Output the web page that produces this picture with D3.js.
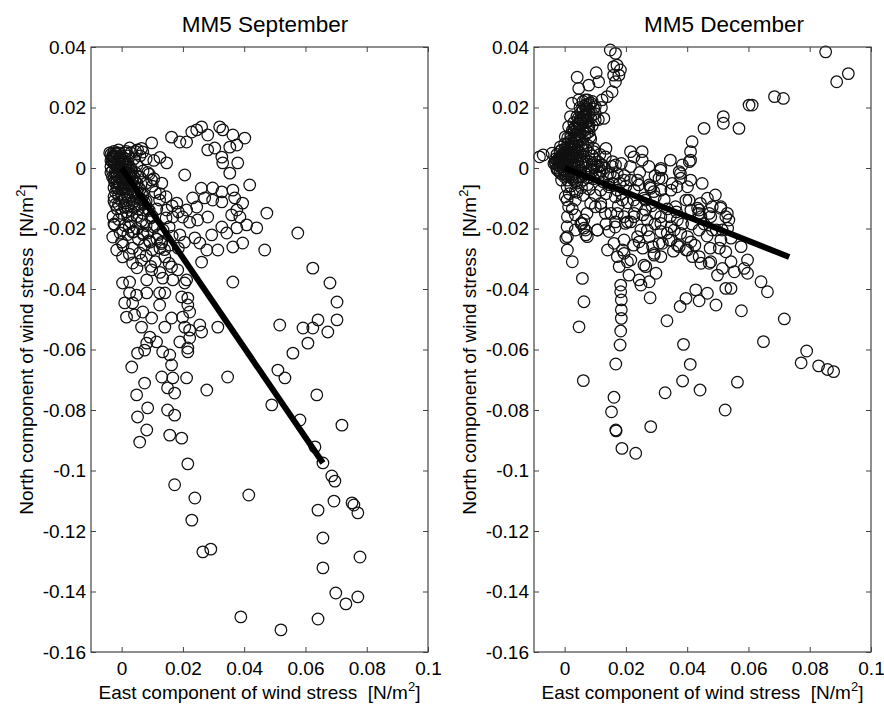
<!DOCTYPE html>
<html>
<head>
<meta charset="utf-8">
<script src="https://cdn.jsdelivr.net/npm/d3@7"></script>
<style>
  body { margin: 0; background: #fff; }
  text { font-family: "Liberation Sans", Arial, sans-serif; fill: #000; }
</style>
</head>
<body>
<svg id="chart"></svg>
<script>
// values, N/m^2
const xTicks = [0, 0.02, 0.04, 0.06, 0.08, 0.1];
const yTicks = [0.04, 0.02, 0, -0.02, -0.04, -0.06, -0.08, -0.1, -0.12, -0.14, -0.16];
const titles = ["MM5 September", "MM5 December"];
const xLabel = "East component of wind stress  [N/m";
const yLabel = "North component of wind stress  [N/m";

const sepPoints = [
  [0.0163,0.0102],[0.0190,0.0086],[0.0212,0.0086],[0.0229,0.0119],[0.0245,0.0126],[0.0261,0.0136],[0.0281,0.0109],[0.0320,0.0136],[0.0330,0.0126],[0.0363,0.0109],[0.0402,0.0099],[0.0304,0.0066],[0.0281,0.0060],[0.0327,0.0036],[0.0353,0.0069],[0.0376,0.0076],[0.0330,0.0017],[0.0353,-0.0017],[0.0379,0.0017],[0.0418,-0.0056],[0.0206,-0.0023],[0.0147,0.0017],[0.0098,0.0083],[0.0069,0.0053],[0.0052,0.0060],[0.0026,0.0066],[-0.0039,0.0050],[-0.0029,0.0036],
  [0.0260,-0.0067],[0.0297,-0.0066],[0.0327,-0.0079],[0.0363,-0.0073],[0.0369,-0.0099],[0.0395,-0.0116],[0.0376,-0.0139],[0.0359,-0.0155],[0.0386,-0.0162],[0.0474,-0.0149],[0.0327,-0.0112],[0.0297,-0.0106],[0.0271,-0.0099],[0.0232,-0.0099],[0.0245,-0.0129],[0.0212,-0.0139],[0.0180,-0.0116],[0.0281,-0.0162],[0.0248,-0.0172],[0.0222,-0.0179],[0.0199,-0.0162],[0.0167,-0.0162],[0.0147,-0.0139],[0.0124,-0.0106],[0.0131,-0.0050],[0.0098,-0.0040],[0.0327,-0.0195],[0.0294,-0.0221],[0.0343,-0.0215],[0.0376,-0.0198],[0.0408,-0.0188],[0.0441,-0.0198],[0.0467,-0.0271],[0.0363,-0.0261],[0.0395,-0.0248],[0.0314,-0.0271],[0.0278,-0.0271],[0.0255,-0.0248],[0.0239,-0.0231],[0.0190,-0.0221],[0.0157,-0.0255],[0.0131,-0.0245],[0.0092,-0.0245],[0.0069,-0.0215],[0.0036,-0.0212],[0.0003,-0.0205],[-0.0023,-0.0188],[-0.0029,-0.0228],[0.0000,-0.0245],[-0.0016,-0.0271],[0.0003,-0.0294],[0.0036,-0.0314],[0.0059,-0.0281],[0.0141,-0.0294],[0.0163,-0.0327],[0.0183,-0.0337],[0.0212,-0.0370],[0.0261,-0.0311],[0.0134,-0.0364],[0.0082,-0.0370],[0.0026,-0.0377],[0.0003,-0.0380],[0.0363,-0.0377],[0.0098,-0.0337],[0.0575,-0.0215],
  [0.0026,-0.0413],[0.0049,-0.0420],[0.0010,-0.0446],[0.0036,-0.0446],[0.0016,-0.0493],[0.0042,-0.0486],[0.0069,-0.0476],[0.0065,-0.0526],[0.0098,-0.0496],[0.0124,-0.0453],[0.0082,-0.0413],[0.0124,-0.0413],[0.0141,-0.0413],[0.0167,-0.0370],[0.0206,-0.0380],[0.0196,-0.0426],[0.0216,-0.0430],[0.0216,-0.0453],[0.0222,-0.0476],[0.0199,-0.0493],[0.0163,-0.0496],[0.0141,-0.0526],[0.0206,-0.0526],[0.0222,-0.0536],[0.0255,-0.0519],[0.0261,-0.0542],[0.0314,-0.0526],[0.0222,-0.0562],[0.0190,-0.0575],[0.0216,-0.0595],[0.0216,-0.0608],[0.0092,-0.0559],[0.0082,-0.0579],[0.0114,-0.0575],[0.0075,-0.0602],[0.0052,-0.0612],[0.0134,-0.0608],[0.0157,-0.0618],[0.0163,-0.0651],[0.0033,-0.0658],[0.0131,-0.0691],[0.0167,-0.0694],[0.0212,-0.0694],[0.0075,-0.0711],[0.0150,-0.0727],[0.0173,-0.0744],[0.0049,-0.0750],[0.0278,-0.0734],[0.0346,-0.0691],[0.0085,-0.0793],[0.0150,-0.0800],[0.0173,-0.0817],[0.0052,-0.0823],[0.0082,-0.0866],[0.0059,-0.0906],[0.0157,-0.0883],[0.0196,-0.0893],[0.0216,-0.0978],[0.0173,-0.1047],
  [0.0680,-0.0380],[0.0703,-0.0443],[0.0516,-0.0519],[0.0592,-0.0529],[0.0624,-0.0529],[0.0641,-0.0502],[0.0703,-0.0502],[0.0673,-0.0542],[0.0608,-0.0579],[0.0559,-0.0612],[0.0510,-0.0668],[0.0533,-0.0694],[0.0637,-0.0750],[0.0490,-0.0783],[0.0582,-0.0833],[0.0719,-0.0850],[0.0631,-0.0922],[0.0657,-0.0975],[0.0624,-0.0331],
  [0.0239,-0.1091],[0.0229,-0.1164],[0.0265,-0.1269],[0.0291,-0.1260],[0.0415,-0.1081],[0.0389,-0.1484],[0.0520,-0.1527],[0.0686,-0.1018],[0.0696,-0.1035],[0.0693,-0.1101],[0.0752,-0.1107],[0.0758,-0.1114],[0.0771,-0.1140],[0.0641,-0.1131],[0.0657,-0.1223],[0.0778,-0.1286],[0.0657,-0.1322],[0.0699,-0.1405],[0.0732,-0.1441],[0.0771,-0.1418],[0.0641,-0.1491],
  [-0.003,0.004],[-0.002,0.005],[-0.001,0.006],[-0.003,0.002],[-0.002,0.001],[-0.001,0.003],[0,0.002],[0.001,0.003],[0.002,0.004],[0,0],[0.001,0.001],[0.002,0.002],[-0.001,-0.001],[0,-0.002],[0.001,-0.003],[0.002,-0.001],[0.003,0],[0.003,-0.002],[0.004,-0.003],[0.002,-0.004],[0.001,-0.005],[-0.001,-0.003],[-0.002,-0.002],[-0.002,-0.005],[0,-0.007],[0.002,-0.007],[0.004,-0.006],[0.005,-0.005],[0.006,-0.007],[0.003,-0.009],[0.001,-0.010],[-0.001,-0.009],[0.005,-0.010],[0.007,-0.009],[0.008,-0.011],[0.006,-0.012],[0.004,-0.013],[0.002,-0.013],[0.009,-0.014],[0.010,-0.016],[0.007,-0.015],[0.005,-0.016],[0.003,-0.018],[0.011,-0.019],[0.008,-0.019],[0.005,-0.020],[0.012,-0.022],[0.009,-0.024],[0.013,-0.025],[0.014,-0.027],[0.006,-0.003],[0.007,-0.001],[0.005,0.001],[0.004,0.003],[0.006,0.004],[0.008,0.003],[0.009,-0.002],[0.010,-0.006],[0.011,-0.008],[0.008,-0.005],[0.001,0.005],[0.003,0.005],[-0.002,-0.008],[-0.001,-0.012],[0,-0.015],[-0.001,-0.017],[0.001,-0.019],[0.002,-0.016],[0.004,-0.021],[0.007,-0.022],[0.002,-0.022],[0.010,-0.027],[0.008,-0.029],[0.011,-0.031],[0.005,-0.033],[-0.0023,-0.0046],[-0.0025,-0.011],[-0.0028,-0.016],[-0.0015,0.0005],[0.0005,-0.0015],[0.0015,-0.0005],[-0.0005,0.0015],[0.0025,0.0005],[0.0035,-0.0045],[0.0045,-0.0015],[0.0015,-0.0085],[-0.0005,-0.0055],[0.0065,-0.0105],[0.0035,-0.0115],
  [-0.0035,0.0045],[-0.0025,0.0035],[-0.0015,0.0045],[-0.0005,0.0035],[0.0005,0.0025],[0.0015,0.0015],[-0.0025,0.0015],[-0.0035,0.0025],[-0.0005,0.0005],[0.0005,-0.0005],[0.0025,-0.0025],[0.0035,-0.0035],[0.0015,-0.0035],[0.0005,-0.0045],[-0.0015,-0.0025],[-0.0025,-0.0035],[-0.0015,-0.0045],[0.0025,-0.0055],[0.0045,-0.0045],[0.0055,-0.0065],[0.0035,-0.0075],[0.0005,-0.0065],[-0.0015,-0.0065],[0.0015,-0.0115],[0.0045,-0.0085],[0.0065,-0.0085],[0.0075,-0.0115],[0.0055,-0.0135],[0.0085,-0.0135],[0.0095,-0.0165],[0.0065,-0.0175],[0.0035,-0.0155],[0.0015,-0.0145],[0.0105,-0.0195],[0.0085,-0.0215],[0.0115,-0.0235],[0.0055,-0.0235],[0.0035,-0.0265],[0.0125,-0.0265],[0.0075,-0.0255],[0.0155,-0.0195],[0.0165,-0.0225],[0.0135,-0.0205],[0.0145,-0.0165],[0.0115,-0.0135],[0.0125,-0.0085],[0.0145,-0.0095],[0.0165,-0.0125],[0.0185,-0.0145],[0.0105,-0.0035],[0.0085,-0.0015],[0.0105,0.0025],[0.0125,0.0035],[0.0065,0.0065],[0.0045,0.0055],[0.0015,0.0055],[-0.0025,0.0055],[-0.0035,0.0005],[-0.0035,-0.0015],[-0.0025,-0.0065],[-0.0025,-0.0095],[-0.0015,-0.0135],[-0.0025,-0.0185],[-0.0005,-0.0215],[0.0025,-0.0195],[0.0005,-0.0255],[0.0025,-0.0285],[0.0065,-0.0305],[0.0095,-0.0325],[0.0125,-0.0345],[0.0155,-0.0315],[0.0185,-0.0265],[0.0205,-0.0245],
  [-0.0030,0.0030],[-0.0020,0.0040],[-0.0010,0.0050],[0.0000,0.0040],[0.0010,0.0020],[0.0020,0.0010],[0.0030,-0.0010],[0.0010,-0.0010],[-0.0010,0.0000],[-0.0020,-0.0010],[-0.0030,-0.0010],[-0.0030,-0.0030],[-0.0010,-0.0050],[0.0000,-0.0040],[0.0020,-0.0030],[0.0030,-0.0050],[0.0010,-0.0070],[0.0030,-0.0060],[0.0040,-0.0080],[0.0020,-0.0090],[0.0000,-0.0090],[-0.0010,-0.0070],[0.0050,-0.0080],[0.0060,-0.0100],[0.0040,-0.0110],[0.0070,-0.0120],[0.0000,-0.0110],[-0.0020,-0.0120],[0.0010,-0.0130],[0.0030,-0.0140]
];
const sepLine = [[0, 0], [0.0657, -0.0975]];

const decPoints = [
  [0.0149,0.0390],[0.0166,0.0379],[0.0171,0.0340],[0.0160,0.0335],[0.0182,0.0324],[0.0177,0.0307],[0.0160,0.0307],[0.0166,0.0285],[0.0155,0.0252],[0.0139,0.0236],[0.0122,0.0225],[0.0103,0.0315],[0.0111,0.0285],[0.0079,0.0274],[0.0041,0.0300],[0.0046,0.0263],[0.0024,0.0214],[0.0046,0.0225],[0.0068,0.0225],[0.0100,0.0203],[0.0128,0.0164],[0.0100,0.0159],[0.0079,0.0137],[0.0073,0.0116],[0.0083,0.0103],[0.0046,0.0148],[0.0019,0.0170],[0.0013,0.0137],[0.0002,0.0103],[-0.0014,0.0070],[-0.0041,0.0049],[-0.0070,0.0043],[-0.0082,0.0037],[-0.0019,0.0032],[-0.0030,0.0016],[-0.0025,0.0000],
  [0.0215,0.0054],[0.0253,0.0054],[0.0226,0.0037],[0.0253,0.0026],[0.0345,0.0026],[0.0384,0.0010],[0.0416,0.0087],[0.0411,0.0054],[0.0411,0.0026],[0.0378,-0.0018],[0.0313,-0.0007],[0.0318,-0.0034],[0.0351,-0.0051],[0.0367,-0.0062],[0.0411,-0.0040],[0.0449,-0.0051],[0.0455,0.0131],[0.0518,0.0170],[0.0518,0.0148],[0.0569,0.0131],[0.0602,0.0208],[0.0612,0.0208],[0.0685,0.0236],[0.0714,0.0230],[0.0852,0.0384],[0.0888,0.0285],[0.0926,0.0312],[0.0407,0.0021],
  [0.0215,-0.0040],[0.0242,-0.0056],[0.0280,-0.0062],[0.0291,-0.0078],[0.0296,-0.0095],[0.0264,-0.0106],[0.0226,-0.0106],[0.0188,-0.0106],[0.0144,-0.0062],[0.0149,-0.0018],[0.0166,0.0010],[0.0133,0.0037],[0.0111,0.0004],[0.0095,0.0054],[0.0062,0.0037],[0.0406,-0.0106],[0.0443,-0.0117],[0.0482,-0.0128],[0.0492,-0.0089],[0.0509,-0.0133],[0.0531,-0.0150],[0.0536,-0.0172],[0.0514,-0.0205],[0.0482,-0.0205],[0.0438,-0.0150],[0.0362,-0.0128],[0.0345,-0.0161],[0.0296,-0.0150],[0.0264,-0.0139],[0.0226,-0.0161],[0.0198,-0.0183],[0.0166,-0.0178],[0.0133,-0.0150],[0.0100,-0.0128],[0.0073,-0.0150],[0.0057,-0.0183],[0.0068,-0.0205],[0.0035,-0.0205],[0.0008,-0.0194],[0.0008,-0.0106],[0.0013,-0.0128],[0.0035,-0.0106],[0.0002,-0.0095],[0.0008,-0.0062],[0.0035,-0.0045],[0.0057,-0.0029],
  [0.0009,-0.0161],[0.0004,-0.0232],[0.0009,-0.0271],[0.0025,-0.0310],[0.0058,-0.0365],[0.0063,-0.0442],[0.0047,-0.0525],[0.0061,-0.0703],[0.0053,-0.0183],[0.0063,-0.0199],[0.0069,-0.0221],[0.0107,-0.0205],[0.0145,-0.0210],[0.0140,-0.0271],[0.0161,-0.0249],[0.0172,-0.0293],[0.0178,-0.0326],[0.0194,-0.0238],[0.0189,-0.0271],[0.0205,-0.0310],[0.0210,-0.0354],[0.0183,-0.0387],[0.0183,-0.0409],[0.0185,-0.0436],[0.0185,-0.0469],[0.0185,-0.0497],[0.0183,-0.0539],[0.0181,-0.0585],[0.0167,-0.0648],[0.0161,-0.0758],[0.0153,-0.0806],[0.0167,-0.0866],[0.0168,-0.0869],[0.0187,-0.0927],[0.0232,-0.0943],[0.0281,-0.0855],[0.0243,-0.0370],[0.0249,-0.0387],[0.0276,-0.0376],[0.0265,-0.0326],[0.0298,-0.0348],[0.0279,-0.0429],[0.0243,-0.0244],[0.0249,-0.0205],[0.0276,-0.0227],[0.0287,-0.0260],[0.0292,-0.0288],[0.0314,-0.0293],[0.0308,-0.0249],[0.0314,-0.0210],[0.0341,-0.0238],[0.0368,-0.0255],[0.0401,-0.0271],[0.0412,-0.0244],[0.0439,-0.0293],[0.0472,-0.0315],[0.0499,-0.0354],[0.0515,-0.0332],[0.0526,-0.0398],[0.0543,-0.0398],[0.0554,-0.0343],[0.0543,-0.0310],[0.0526,-0.0277],[0.0576,-0.0260],[0.0597,-0.0304],[0.0586,-0.0332],[0.0597,-0.0348],[0.0510,-0.0238],[0.0543,-0.0232],[0.0532,-0.0199],[0.0439,-0.0205],[0.0445,-0.0161],[0.0477,-0.0161],[0.0510,-0.0128],[0.0526,-0.0161],[0.0412,-0.0139],[0.0439,-0.0139],[0.0368,-0.0172],[0.0379,-0.0216],[0.0347,-0.0194],[0.0314,-0.0161],[0.0270,-0.0172],[0.0227,-0.0150],[0.0205,-0.0178],[0.0172,-0.0150],[0.0118,-0.0128],[0.0085,-0.0117],[0.0063,-0.0172],[0.0641,-0.0376],[0.0662,-0.0409],[0.0577,-0.0472],[0.0494,-0.0453],[0.0466,-0.0414],[0.0439,-0.0439],[0.0428,-0.0403],[0.0396,-0.0431],[0.0377,-0.0458],[0.0334,-0.0505],[0.0388,-0.0583],[0.0410,-0.0649],[0.0385,-0.0704],[0.0442,-0.0734],[0.0328,-0.0743],[0.0564,-0.0708],[0.0524,-0.0800],[0.0649,-0.0574],[0.0717,-0.0499],[0.0790,-0.0605],[0.0772,-0.0644],[0.0829,-0.0654],[0.0858,-0.0666],[0.0878,-0.0673],
  [0.0314,-0.0001],[0.0374,-0.0012],[0.0379,-0.0034],[0.0308,-0.0034],[0.0276,-0.0056],[0.0281,-0.0067],[0.0238,-0.0040],[0.0156,0.0021],[0.0123,0.0010],[0.0172,-0.0018],[0.0156,-0.0051],[0.0194,-0.0040],[0.0172,-0.0073],[0.0227,-0.0073],[0.0259,-0.0100],[0.0314,-0.0073],[0.0347,-0.0073],[0.0401,-0.0062],[0.0396,-0.0106],[0.0434,-0.0133],[0.0466,-0.0100],[0.0472,-0.0150],[0.0118,-0.0073],[0.0118,-0.0117],[0.0151,-0.0150],[0.0194,-0.0161],[0.0216,-0.0178],[0.0074,-0.0227],[0.0107,-0.0205],[0.0009,-0.0227],[0.0194,-0.0282],[0.0216,-0.0304],[0.0259,-0.0321],[0.0292,-0.0282],[0.0319,-0.0249],[0.0347,-0.0238],[0.0374,-0.0260],[0.0396,-0.0271],[0.0417,-0.0293],[0.0445,-0.0315],[0.0477,-0.0310],[0.0358,-0.0205],[0.0401,-0.0227],[0.0314,-0.0183],[0.0270,-0.0205],[0.0238,-0.0227],
  [-0.002,0.003],[-0.001,0.004],[0,0.005],[-0.001,0.002],[0,0.001],[0.001,0],[0,-0.001],[-0.001,-0.002],[0.001,0.002],[0.002,0.003],[0.001,0.004],[0.002,0.005],[0.003,0.006],[0.002,0.007],[0.003,0.008],[0.004,0.009],[0.003,0.010],[0.004,0.011],[0.005,0.012],[0.004,0.013],[0.005,0.014],[0.006,0.015],[0.005,0.016],[0.006,0.017],[0.007,0.018],[0.006,0.019],[0.007,0.020],[0.008,0.021],[0.006,0.022],[0.003,0.013],[0.002,0.011],[0.005,0.009],[0.006,0.008],[0.007,0.006],[0.008,0.005],[0.009,0.004],[0.010,0.003],[0.011,0.002],[0.012,0.001],[0.013,0],[0.012,-0.001],[0.010,-0.002],[0.008,-0.003],[0.006,-0.004],[0.004,-0.005],[0.002,-0.006],[0.003,-0.002],[0.005,-0.001],[0.007,0],[0.009,0.001],[0.011,-0.003],[0.014,-0.002],[0.016,-0.003],[0.018,-0.005],[0.020,-0.006],[0.002,-0.003],[0.004,-0.008],[0.006,-0.009],[0.008,-0.007],[0.010,-0.009],[0.009,0.014],[0.008,0.012],[0.010,0.018],[0.011,0.016],[0.012,0.020],[0.009,0.022],[0.005,0.020],[0.004,0.017],[0.003,0.015],[0.002,0.009],[0.001,0.007],[0,0.008],[0.001,0.010],[-0.001,0.006],[-0.003,0.003],[-0.002,0.001],[0,0.003],[0.001,0.001],[0.002,0],[0.003,0.001],[0.004,0.002],[0.005,0.003],[0.006,0.002],[0.004,0.004],[0.002,0.002],[0.003,0.004],[0,-0.003],[0.001,-0.004],[-0.001,-0.004],[-0.0015,0.0005],[0.0005,0.0015],[0.0015,0.0035],[0.0035,0.0025],[0.0025,0.0005],[0.0015,-0.0015],[0.0045,0.0005],[0.0055,0.0015],[0.0065,0.0105],[0.0055,0.0065],[0.0075,0.0155],
  [-0.0025,0.0025],[-0.0035,0.0015],[-0.0015,0.0035],[-0.0005,0.0045],[0.0005,0.0055],[-0.0015,0.0055],[-0.0025,0.0045],[-0.0005,0.0025],[0.0005,0.0005],[0.0015,0.0025],[0.0025,0.0045],[0.0035,0.0055],[0.0015,0.0065],[0.0025,0.0085],[0.0035,0.0095],[0.0045,0.0105],[0.0025,0.0125],[0.0035,0.0135],[0.0045,0.0145],[0.0055,0.0155],[0.0045,0.0165],[0.0065,0.0175],[0.0055,0.0185],[0.0075,0.0195],[0.0065,0.0205],[0.0085,0.0215],[0.0075,0.0225],[0.0095,0.0195],[0.0085,0.0165],[0.0075,0.0135],[0.0065,0.0125],[0.0085,0.0095],[0.0075,0.0075],[0.0095,0.0065],[0.0045,0.0075],[-0.0005,-0.0005],[-0.0015,-0.0015],[-0.0025,-0.0005],[0.0005,-0.0025],[0.0025,-0.0035],[0.0045,-0.0025],[0.0065,-0.0015],[0.0085,-0.0005],[0.0105,0.0005],[0.0115,-0.0015],[0.0095,-0.0035],[0.0075,-0.0055],[0.0055,-0.0065],[0.0035,-0.0075],[0.0015,-0.0085],[0.0125,-0.0045],[0.0145,-0.0055],[0.0135,-0.0085],[0.0165,-0.0095],[0.0185,-0.0085],[0.0205,-0.0115],[0.0175,-0.0125],[0.0235,-0.0125],[0.0255,-0.0155],[0.0285,-0.0125],[0.0325,-0.0105],[0.0335,-0.0135],[0.0365,-0.0145],[0.0385,-0.0185],[0.0415,-0.0185],[0.0455,-0.0185],[0.0465,-0.0225],[0.0495,-0.0205],[0.0505,-0.0265],[0.0475,-0.0265],[0.0425,-0.0255],[0.0355,-0.0275],[0.0335,-0.0215],[0.0295,-0.0185],[0.0255,-0.0265],[0.0225,-0.0255],[0.0165,-0.0195],[0.0135,-0.0185],[0.0025,-0.0135],[0.0035,-0.0155],[0.0155,0.0005],[0.0185,0.0015],[0.0195,-0.0025],[0.0215,0.0005],[0.0245,-0.0015],[0.0275,0.0005],[0.0295,-0.0025],[0.0115,0.0045],[0.0135,0.0065],
  [-0.0030,0.0020],[-0.0020,0.0020],[-0.0010,0.0030],[0.0000,0.0020],[0.0010,0.0030],[0.0020,0.0040],[0.0010,0.0050],[0.0000,0.0060],[0.0010,0.0080],[0.0020,0.0100],[0.0030,0.0120],[0.0020,0.0060],[0.0030,0.0070],[0.0040,0.0060],[0.0050,0.0050],[0.0060,0.0060],[0.0040,0.0100],[0.0050,0.0110],[0.0060,0.0130],[0.0070,0.0150],[0.0060,0.0160],[0.0070,0.0170],[0.0080,0.0190],[0.0080,0.0180],[0.0070,0.0210],[0.0020,-0.0010],[0.0010,-0.0020],[0.0030,-0.0030],[0.0050,-0.0030],[0.0070,-0.0020],[0.0090,-0.0010],[0.0040,0.0000],[0.0060,0.0010],[0.0080,0.0020],[0.0100,0.0010],[-0.0010,0.0010],[0.0000,-0.0020],[-0.0020,-0.0010]
];
const decLine = [[0, 0], [0.0733, -0.0294]];

const width = 884, height = 706;
const plotTop = 47, plotBottom = 652, plotWidth = 337;

const svg = d3.select("#chart")
    .attr("width", width)
    .attr("height", height);

const panels = [
    { title: titles[0], points: sepPoints, line: sepLine, left: 91, titleX: 265, yLabelX: 33 },
    { title: titles[1], points: decPoints, line: decLine, left: 534, titleX: 724, yLabelX: 476 }
];

const fmt = d => String(+d.toFixed(3));

panels.forEach(p => {
    let x = d3.scaleLinear()
        .domain([-0.01, 0.1])
        .range([p.left, p.left + plotWidth]);
    let y = d3.scaleLinear()
        .domain([-0.16, 0.04])
        .range([plotBottom, plotTop]);

    let g = svg.append("g");

    g.append("g")
        .selectAll("circle")
        .data(p.points)
        .enter()
        .append("circle")
        .attr("cx", d => x(d[0]))
        .attr("cy", d => y(d[1]))
        .attr("r", 5.8)
        .attr("fill", "none")
        .attr("stroke", "#111")
        .attr("stroke-width", 1.25);

    g.append("path")
        .datum(p.line)
        .attr("d", d3.line().x(d => x(d[0])).y(d => y(d[1])))
        .attr("fill", "none")
        .attr("stroke", "#000")
        .attr("stroke-width", 6);

    // axes: inward ticks on all four sides
    let axes = [
        [d3.axisBottom(x).tickValues(xTicks).tickFormat(fmt).tickPadding(10), `translate(0,${plotBottom})`],
        [d3.axisTop(x).tickValues(xTicks).tickFormat(""), `translate(0,${plotTop})`],
        [d3.axisLeft(y).tickValues(yTicks).tickFormat(fmt).tickPadding(5), `translate(${p.left},0)`],
        [d3.axisRight(y).tickValues(yTicks).tickFormat(""), `translate(${p.left + plotWidth},0)`]
    ];
    axes.forEach(([axis, tr]) => {
        let a = g.append("g")
            .attr("transform", tr)
            .attr("color", "#444")
            .call(axis.tickSizeInner(-5).tickSizeOuter(0));
        a.select(".domain").remove();
        a.selectAll("text")
            .attr("font-size", 19)
            .attr("font-family", '"Liberation Sans", Arial, sans-serif')
            .attr("fill", "#000");
    });

    g.append("rect")
        .attr("x", p.left)
        .attr("y", plotTop)
        .attr("width", plotWidth)
        .attr("height", plotBottom - plotTop)
        .attr("fill", "none")
        .attr("stroke", "#444")
        .attr("stroke-width", 1.2);

    g.append("text")
        .attr("x", p.titleX)
        .attr("y", 32)
        .attr("text-anchor", "middle")
        .attr("font-size", 22.5)
        .text(p.title);

    let xl = g.append("text")
        .attr("x", (p.left + p.left + plotWidth) / 2)
        .attr("y", 699)
        .attr("text-anchor", "middle")
        .attr("font-size", 19)
        .attr("xml:space", "preserve")
        .text(xLabel);
    xl.append("tspan").attr("dy", -8).attr("font-size", 13).text("2");
    xl.append("tspan").attr("dy", 8).text("]");

    let yl = g.append("text")
        .attr("transform", `translate(${p.yLabelX},${(plotTop + plotBottom) / 2}) rotate(-90)`)
        .attr("text-anchor", "middle")
        .attr("font-size", 19)
        .attr("xml:space", "preserve")
        .text(yLabel);
    yl.append("tspan").attr("dy", -8).attr("font-size", 13).text("2");
    yl.append("tspan").attr("dy", 8).text("]");
});
</script>
</body>
</html>
